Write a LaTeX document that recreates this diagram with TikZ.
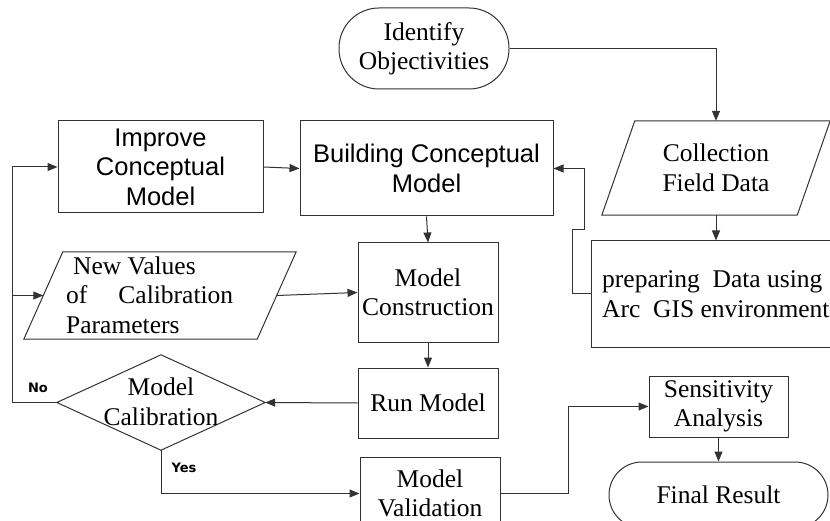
\documentclass[tikz,border=0pt]{standalone}
\usepackage{fontspec}
\setmainfont{Liberation Serif}
\setsansfont{Liberation Sans}
\newfontfamily\lblfont{DejaVu Sans}
\usetikzlibrary{arrows.meta,calc}
\begin{document}
\begin{tikzpicture}[x=1pt,y=-1pt,
  ln/.style={draw=black!80, line width=1pt},
  arr/.style={ln, -{Triangle[length=10pt,width=8pt]}},
  box/.style={ln, rectangle, inner sep=0pt, align=center, font=\fontsize{25.5}{29.5}\selectfont},
  sbox/.style={box, font=\sffamily\fontsize{25.5}{29.5}\selectfont},
  ghost/.style={rectangle, inner sep=0pt, draw=none},
  txt/.style={inner sep=0pt, align=center, font=\fontsize{25.5}{29.5}\selectfont},
  lbl/.style={inner sep=0pt, font=\lblfont\bfseries\fontsize{13}{15}\selectfont}
]
\useasboundingbox (0,0) rectangle (830,521);
\clip (0,0) rectangle (830,521);
\fill[white] (0,0) rectangle (830,521);

% nodes
\node[box, rounded corners=40pt, minimum width=170pt, minimum height=81pt] (id) at (424,48.5) {Identify\\Objectivities};
\node[sbox, minimum width=205pt, minimum height=92pt] (imp) at (160.5,167) {Improve\\Conceptual\\Model};
\node[sbox, minimum width=253pt, minimum height=95pt] (bld) at (426.5,168.5) {Building Conceptual\\Model};

\node[ghost, minimum width=195pt, minimum height=94pt] (col) at (716,168) {};
\draw[ln] ([xshift=16.5pt]col.north west) -- ([xshift=16.5pt]col.north east) -- ([xshift=-16.5pt]col.south east) -- ([xshift=-16.5pt]col.south west) -- cycle;
\node[txt] (colt) at (col.center) {Collection\\Field Data};

\node[box, minimum width=254pt, minimum height=106pt] (prep) at (718,294) {};
\node[txt, anchor=west, align=left] (prept) at (602,294) {preparing\ \ Data using\\Arc\ \ GIS environment};

\node[ghost, minimum width=233pt, minimum height=87pt] (nv) at (160,295.5) {};
\draw[ln] ([xshift=19.5pt]nv.north west) -- ([xshift=19.5pt]nv.north east) -- ([xshift=-19.5pt]nv.south east) -- ([xshift=-19.5pt]nv.south west) -- cycle;
\node[txt, anchor=west, align=left] (nvt) at (66,295) {\hspace{7pt}New Values\\\makebox[167pt][l]{of\hfill Calibration}\\Parameters};

\node[box, minimum width=140pt, minimum height=99pt] (mc) at (428,292.5) {Model\\Construction};
\node[box, minimum width=140pt, minimum height=70pt] (rm) at (428,403) {Run Model};

\node[ghost, minimum width=208pt, minimum height=95pt] (dia) at (161,402.5) {};
\draw[ln] (dia.west) -- (dia.north) -- (dia.east) -- (dia.south) -- cycle;
\node[txt] (diat) at (161,402) {Model\\Calibration};

\node[box, minimum width=140pt, minimum height=73pt] (mv) at (430,493.5) {Model\\Validation};
\node[box, minimum width=139pt, minimum height=61pt] (sa) at (718.5,406.5) {Sensitivity\\Analysis};
\node[box, rounded corners=33pt, minimum width=219pt, minimum height=66pt] (fr) at (718.5,495) {Final Result};

\node[lbl] (no) at (38,388) {No};
\node[lbl] (yes) at (184,468) {Yes};

% connectors
\coordinate (j1) at (572,230);
\coordinate (j2) at (584,230);
\coordinate (lx) at (12,0);
\coordinate (mx) at (568,0);

\draw[arr] (id.east) -| (col.north);
\draw[arr] (col.south) -- (col.south |- prep.north);
\draw[arr] (prep.west) -| (j1) -- (j2) |- (bld.east);
\draw[arr] (imp.east) -- (bld.west);
\draw[arr] (bld.south) -- (mc.north);
\draw[arr] (nv.east) -- (mc.west);
\draw[arr] (mc.south) -- (rm.north);
\draw[arr] (rm.west) -- (dia.east);
\draw[arr] (dia.west) -- (dia.west -| lx) -- (lx |- imp.west) -- (imp.west);
\draw[arr] (lx |- nv.west) -- (nv.west);
\draw[arr] (dia.south) |- (mv.west);
\draw[arr] (mv.east) -- (mv.east -| mx) |- (sa.west);
\draw[arr] (sa.south) -- (fr.north);
\end{tikzpicture}
\end{document}
